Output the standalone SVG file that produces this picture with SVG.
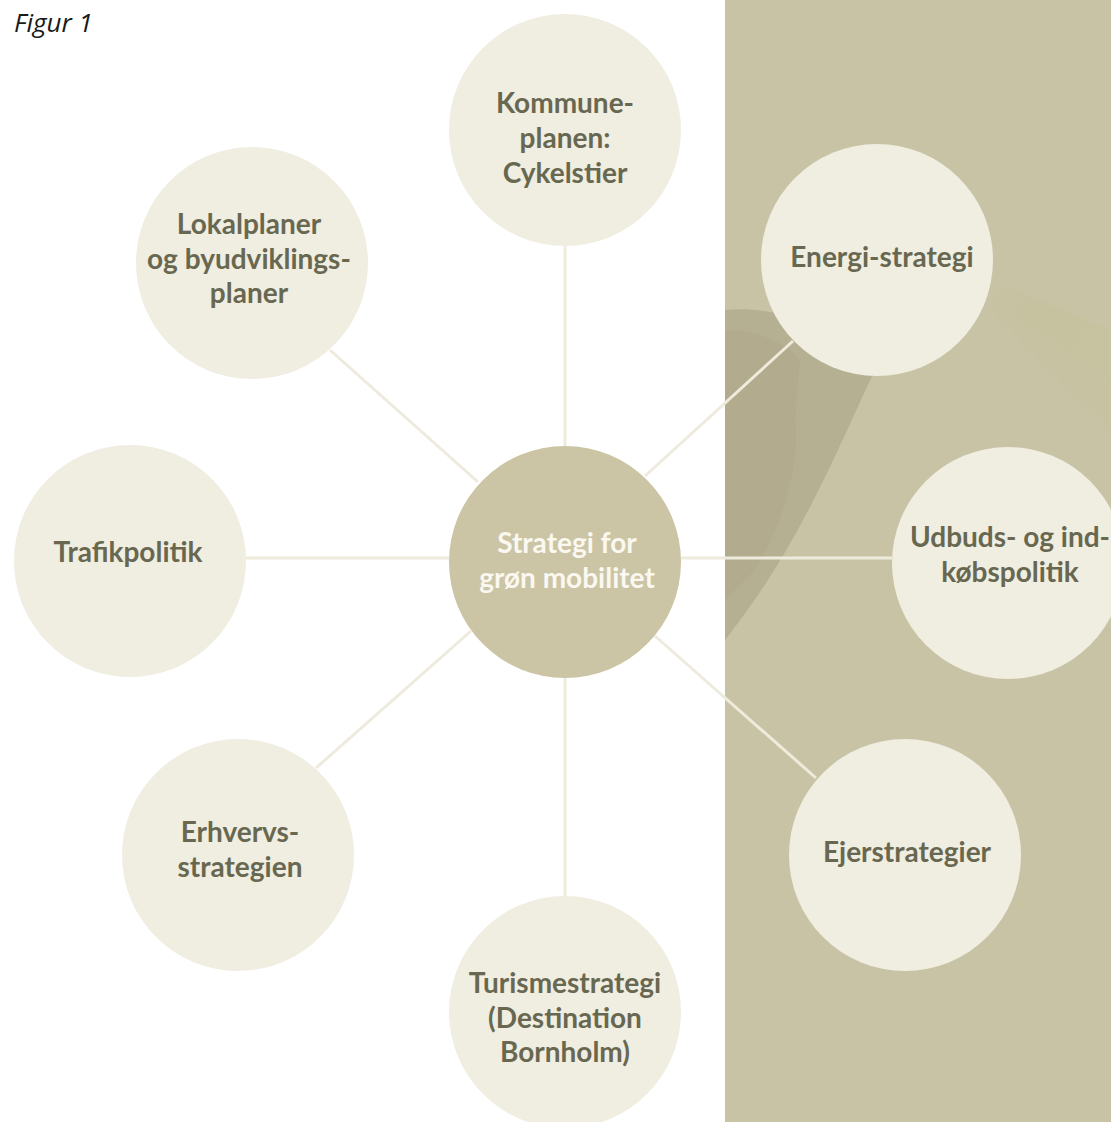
<svg xmlns="http://www.w3.org/2000/svg" width="1111" height="1122" viewBox="0 0 1111 1122">
<defs>
<style>
.node{fill:#f0ede1;}
.hub{fill:#cbc5a5;}
.lbl{font-family:Lato,"Open Sans","Liberation Sans",sans-serif;font-weight:bold;font-size:28px;fill:#686851;text-anchor:middle;}
.hubl{font-family:Lato,"Open Sans","Liberation Sans",sans-serif;font-weight:bold;font-size:28px;fill:#faf8f0;text-anchor:middle;}
.conn line{stroke:#eeebdd;stroke-width:3;}
</style>
<linearGradient id="streak" x1="0" y1="0" x2="1" y2="0.4">
<stop offset="0" stop-color="#bfbd95" stop-opacity="0"/>
<stop offset="0.5" stop-color="#bfbf92" stop-opacity="0.6"/>
<stop offset="1" stop-color="#c2c296" stop-opacity="0.7"/>
</linearGradient>
</defs>
<rect width="1111" height="1122" fill="#ffffff"/>
<g id="background">
<rect x="725" y="0" width="386" height="1122" fill="#c8c3a4"/>
<path d="M725,310 C780,305 840,330 880,360 C845,430 805,540 725,640 Z" fill="#b6b092"/>
<path d="M725,330 C760,330 790,345 800,360 L795,420 C800,470 780,530 755,570 L725,600 Z" fill="#afa98b" opacity="0.6"/>
<path d="M980,275 L1111,330 L1111,380 L990,300 Z" fill="url(#streak)" opacity="0.4"/>
<path d="M990,300 L1111,380 L1111,430 L1000,320 Z" fill="#c3c39a" opacity="0.25"/>
</g>
<text x="14" y="32" font-family="'Open Sans','Noto Sans',sans-serif" font-style="italic" font-size="26" fill="#1a1a1a">Figur 1</text>
<g id="connectors" class="conn">
<line x1="565" y1="246" x2="565" y2="446"/>
<line x1="478" y1="482" x2="330" y2="350"/>
<line x1="645" y1="476" x2="793" y2="341"/>
<line x1="246" y1="558" x2="449" y2="558"/>
<line x1="681" y1="558" x2="892" y2="558"/>
<line x1="471" y1="631" x2="316" y2="768"/>
<line x1="655" y1="636" x2="816" y2="778"/>
<line x1="565" y1="678" x2="565" y2="896"/>
</g>
<g id="node-kommune"><circle class="node" cx="565" cy="130" r="116"/>
<text class="lbl"><tspan x="565" y="113">Kommune-</tspan><tspan x="565" y="148">planen:</tspan><tspan x="565" y="183">Cykelstier</tspan></text></g>
<g id="node-lokalplaner"><circle class="node" cx="252" cy="263" r="116"/>
<text class="lbl"><tspan x="249" y="234">Lokalplaner</tspan><tspan x="249" y="269">og byudviklings-</tspan><tspan x="249" y="303">planer</tspan></text></g>
<g id="node-energi"><circle class="node" cx="877" cy="260" r="116"/>
<text class="lbl" x="882" y="267">Energi-strategi</text></g>
<g id="node-trafik"><circle class="node" cx="130" cy="561" r="116"/>
<text class="lbl" x="128" y="562">Trafikpolitik</text></g>
<g id="node-center"><circle class="hub" cx="565" cy="562" r="116"/>
<text class="hubl"><tspan x="567" y="553">Strategi for</tspan><tspan x="567" y="588">grøn mobilitet</tspan></text></g>
<g id="node-udbud"><circle class="node" cx="1008" cy="563" r="116"/>
<text class="lbl"><tspan x="1010" y="547">Udbuds- og ind-</tspan><tspan x="1010" y="582">købspolitik</tspan></text></g>
<g id="node-erhverv"><circle class="node" cx="238" cy="855" r="116"/>
<text class="lbl"><tspan x="240" y="842">Erhvervs-</tspan><tspan x="240" y="877">strategien</tspan></text></g>
<g id="node-ejer"><circle class="node" cx="905" cy="855" r="116"/>
<text class="lbl" x="907" y="862">Ejerstrategier</text></g>
<g id="node-turisme"><circle class="node" cx="565" cy="1012" r="116"/>
<text class="lbl"><tspan x="565" y="993">Turismestrategi</tspan><tspan x="565" y="1028">(Destination</tspan><tspan x="565" y="1062">Bornholm)</tspan></text></g>
</svg>
